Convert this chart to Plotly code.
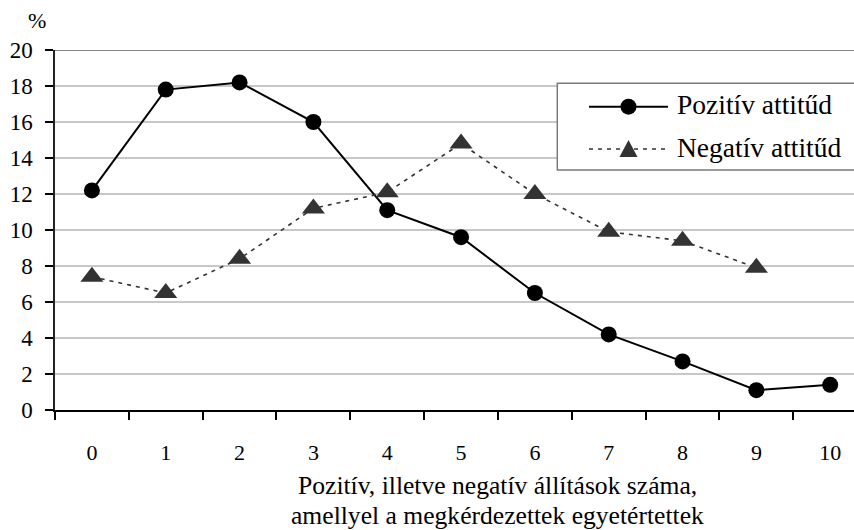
import plotly.graph_objects as go

# Number of agreed statements (0-10) and share of respondents (%)
kategoriak = list(range(11))
pozitiv = [12.2, 17.8, 18.2, 16.0, 11.1, 9.6, 6.5, 4.2, 2.7, 1.1, 1.4]
negativ = [7.4, 6.5, 8.4, 11.2, 12.1, 14.8, 12.0, 9.9, 9.4, 7.9]
y_ticks = list(range(0, 21, 2))

sorozat_nevek = ["Pozitív attitűd", "Negatív attitűd"]
x_cim = ["Pozitív, illetve negatív állítások száma,",
         "amellyel a megkérdezettek egyetértettek"]

FONT = "Liberation Serif, Times New Roman, serif"
W, H = 854, 530
ML, MR, MT, MB = 55, 0, 50, 120
PW, PH = W - ML - MR, H - MT - MB


def px_x(p):
    return (p - ML) / PW


def px_y(p):
    return (H - MB - p) / PH


fig = go.Figure()

fig.add_trace(go.Scatter(
    x=kategoriak, y=pozitiv, name=sorozat_nevek[0], mode="lines+markers",
    line=dict(color="black", width=2),
    marker=dict(symbol="circle", size=16, color="black"),
    showlegend=False, cliponaxis=False,
))
fig.add_trace(go.Scatter(
    x=kategoriak[:len(negativ)], y=negativ, name=sorozat_nevek[1], mode="lines+markers",
    line=dict(color="#333333", width=1.6, dash="4px,5px"),
    marker=dict(symbol="triangle-up", size=20, color="#333333"),
    showlegend=False, cliponaxis=False,
))

shapes = []
# darker top border line at 20%
shapes.append(dict(type="line", xref="paper", yref="y", x0=0, x1=1.01, y0=20, y1=20,
                   line=dict(color="#888888", width=2), layer="below"))

# legend box
shapes.append(dict(type="rect", xref="paper", yref="paper",
                   x0=px_x(557.3), x1=px_x(870), y0=px_y(170), y1=px_y(83.3),
                   line=dict(color="#7a7a7a", width=1.5), fillcolor="white"))
leg_y = [106.7, 149]
shapes.append(dict(type="line", xref="paper", yref="paper",
                   x0=px_x(589), x1=px_x(668), y0=px_y(leg_y[0]), y1=px_y(leg_y[0]),
                   line=dict(color="black", width=2)))
shapes.append(dict(type="line", xref="paper", yref="paper",
                   x0=px_x(589), x1=px_x(668), y0=px_y(leg_y[1]), y1=px_y(leg_y[1]),
                   line=dict(color="#333333", width=1.6, dash="4px,5px")))
shapes.append(dict(type="circle", xref="paper", yref="paper",
                   xsizemode="pixel", ysizemode="pixel",
                   xanchor=px_x(628.5), yanchor=px_y(leg_y[0]),
                   x0=-8, x1=8, y0=-8, y1=8,
                   fillcolor="black", line=dict(width=0)))
shapes.append(dict(type="path", xref="paper", yref="paper",
                   xsizemode="pixel", ysizemode="pixel",
                   xanchor=px_x(628.5), yanchor=px_y(leg_y[1]),
                   path="M-9,-8 L9,-8 L0,9 Z",
                   fillcolor="#333333", line=dict(width=0)))

annotations = []
for nev, yy in zip(sorozat_nevek, leg_y):
    annotations.append(dict(text=nev, xref="paper", yref="paper",
                            x=px_x(675), y=px_y(yy - 2), xanchor="left", yanchor="middle",
                            showarrow=False, font=dict(family=FONT, size=27.5, color="black")))
annotations.append(dict(text="%", xref="paper", yref="paper",
                        x=px_x(37), y=px_y(20), xanchor="center", yanchor="middle",
                        showarrow=False, font=dict(family=FONT, size=22, color="black")))
for sor, yy in zip(x_cim, [486, 515]):
    annotations.append(dict(text=sor, xref="paper", yref="paper",
                            x=px_x(498), y=px_y(yy), xanchor="center", yanchor="middle",
                            showarrow=False, font=dict(family=FONT, size=25.6, color="black")))

fig.update_layout(
    width=W, height=H,
    margin=dict(l=ML, r=MR, t=MT, b=MB),
    paper_bgcolor="white", plot_bgcolor="white",
    font=dict(family=FONT, size=22, color="black"),
    shapes=shapes, annotations=annotations,
    showlegend=False,
)
fig.update_xaxes(
    range=[-0.5, -0.5 + PW / 73.83],
    tickmode="array", tickvals=kategoriak, ticktext=[str(k) for k in kategoriak],
    ticks="", showgrid=False, zeroline=False,
    showline=True, linecolor="black", linewidth=2,
    ticklabelstandoff=22,
    minor=dict(tickmode="array", tickvals=[k - 0.5 for k in kategoriak],
               ticks="outside", ticklen=8, tickcolor="black", tickwidth=1.5, showgrid=False),
    tickfont=dict(family=FONT, size=22, color="black"),
)
fig.update_yaxes(
    range=[0, 20], tickmode="array", tickvals=y_ticks,
    ticks="outside", ticklen=8, tickcolor="black", tickwidth=1.5,
    showgrid=True, gridcolor="#c8c8c8", gridwidth=2,
    zeroline=False, showline=True, linecolor="#222222", linewidth=1.5,
    ticklabelstandoff=8,
    tickfont=dict(family=FONT, size=23, color="black"),
)

fig.write_html("out.html")
